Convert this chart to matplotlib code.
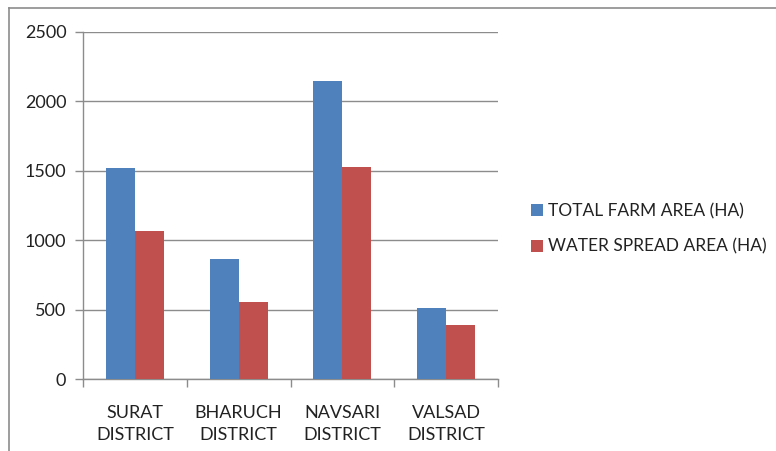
import numpy as np
import matplotlib.pyplot as plt
from matplotlib.lines import Line2D
from matplotlib.patches import Patch

districts = ['SURAT\nDISTRICT', 'BHARUCH\nDISTRICT', 'NAVSARI\nDISTRICT', 'VALSAD\nDISTRICT']
total_farm = [1518, 862, 2147, 514]
water_spread = [1066, 557, 1527, 387]
series_names = ['TOTAL FARM AREA (HA)', 'WATER SPREAD AREA (HA)']
colors = ['#4F81BD', '#C0504D']

plt.rcParams['font.family'] = ['Lato', 'DejaVu Sans']

fig = plt.figure(figsize=(7.76, 4.51), dpi=100)
ax = fig.add_axes([83 / 776, 1 - 379 / 451, (498 - 83) / 776, (379 - 32) / 451])

x = np.arange(len(districts))
w = 0.28
ax.bar(x - w / 2, total_farm, w, color=colors[0], zorder=3)
ax.bar(x + w / 2, water_spread, w, color=colors[1], zorder=3)

ax.set_xlim(-0.5, 3.5)
ax.set_ylim(0, 2500)
ax.set_yticks(np.arange(0, 2501, 500))
ax.yaxis.grid(True, color='#8c8c8c', linewidth=1, zorder=0)

ax.set_xticks(x)
ax.set_xticklabels(districts, fontsize=13, color='#222222', linespacing=1.45)
ax.set_xticks(np.arange(-0.5, 3.6, 1), minor=True)
ax.tick_params(axis='x', which='major', length=0, pad=19)
ax.tick_params(axis='x', which='minor', length=6, color='#8c8c8c', width=1)
ax.tick_params(axis='y', length=6, color='#8c8c8c', width=1, labelsize=13,
               labelcolor='#222222', pad=6)

for s in ['top', 'right']:
    ax.spines[s].set_visible(False)
for s in ['left', 'bottom']:
    ax.spines[s].set_color('#8c8c8c')
    ax.spines[s].set_linewidth(1)

handles = [Patch(facecolor=c) for c in colors]
fig.legend(handles, series_names, loc='center left', bbox_to_anchor=(515 / 776, 1 - 229 / 451),
           frameon=False, fontsize=12.5, handlelength=0.7, handleheight=0.7,
           handletextpad=0.3, labelspacing=1.1, labelcolor='#222222')

# outer chart border
fig.add_artist(Line2D([9 / 776, 1], [1 - 8 / 451, 1 - 8 / 451], color='#8c8c8c', lw=1.2))
fig.add_artist(Line2D([9 / 776, 9 / 776], [0, 1 - 8 / 451], color='#8c8c8c', lw=1.2))

fig.savefig('out.png', dpi=100)
